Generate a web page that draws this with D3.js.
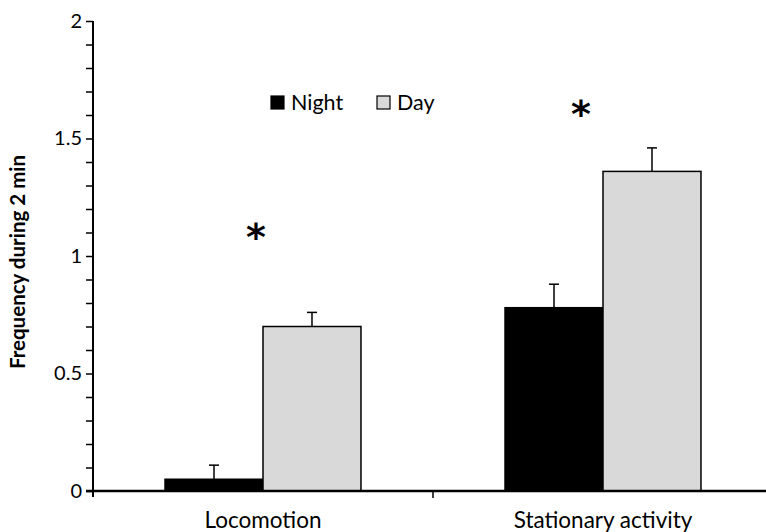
<!DOCTYPE html>
<html><head><meta charset="utf-8">
<script src="https://cdn.jsdelivr.net/npm/d3@7"></script>
<style>body{margin:0;background:#fff}svg{display:block}text{font-family:Lato,"Open Sans",sans-serif}</style>
</head><body><svg id="c" width="766" height="532"></svg>
<script>
const categories = ["Locomotion", "Stationary activity"];
const series = ["Night", "Day"];
const nightValues = [0.05, 0.78];
const dayValues = [0.70, 1.36];
const nightErrors = [0.06, 0.10];
const dayErrors = [0.06, 0.10];
const significant = [true, true];
const asteriskLevels = [1.10, 1.62];
const yTicks = [0, 0.5, 1, 1.5, 2];
const seriesColors = ["#000000", "#d9d9d9"];

const svg = d3.select("#c");
const x0 = 93, x1 = 773, yTop = 21, yBot = 491;
const y = d3.scaleLinear().domain([0, 2]).range([yBot, yTop]);
const x = d3.scaleBand().domain(categories).range([x0, x1]);
const xs = d3.scaleBand().domain(series).range([0, x.bandwidth()]).paddingOuter(0.735);

const vals = {Night: nightValues, Day: dayValues};
const errs = {Night: nightErrors, Day: dayErrors};
const astDx = [-7, -22];

categories.forEach((c, i) => {
  series.forEach((s, j) => {
    const v = vals[s][i], e = errs[s][i];
    const bx = x(c) + xs(s), bw = xs.bandwidth();
    const cx = bx + bw / 2;
    svg.append("line").attr("x1", cx).attr("x2", cx).attr("y1", y(v)).attr("y2", y(v + e))
      .attr("stroke", "#000").attr("stroke-width", 1.5);
    svg.append("line").attr("x1", cx - 5).attr("x2", cx + 5).attr("y1", y(v + e)).attr("y2", y(v + e))
      .attr("stroke", "#000").attr("stroke-width", 1.5);
    svg.append("rect").attr("x", bx).attr("y", y(v)).attr("width", bw).attr("height", y(0) - y(v))
      .attr("fill", seriesColors[j]).attr("stroke", "#000").attr("stroke-width", 1.5);
  });
  if (significant[i]) {
    svg.append("text").attr("x", x(c) + x.bandwidth() / 2 + astDx[i]).attr("y", y(asteriskLevels[i]) + 17)
      .attr("text-anchor", "middle").attr("font-size", 38).attr("font-weight", "bold")
      .style("font-family", "DejaVu Sans").text("*");
  }
});

// y axis
const yAxis = d3.axisLeft(y).tickValues(d3.range(0, 2.0001, 0.1)).tickSize(7).tickSizeOuter(0)
  .tickFormat(d => yTicks.some(t => Math.abs(t - d) < 1e-6) ? d3.format("")(Math.round(d * 10) / 10) : "");
const ga = svg.append("g").attr("transform", `translate(${x0},0)`).call(yAxis);
ga.select(".domain").attr("stroke-width", 2).attr("d", `M0,${yTop}V${yBot + 6}`);
ga.selectAll(".tick line").attr("stroke-width", 1.5);
ga.selectAll(".tick text").attr("font-size", 20).attr("x", -11).style("font-family", "Lato");

// x axis
const gx = svg.append("g").attr("transform", `translate(0,${yBot})`)
  .call(d3.axisBottom(x).tickValues([]).tickSizeOuter(0));
gx.select(".domain").attr("stroke-width", 2.5).attr("d", `M${x0 - 7},0H766`);
svg.append("line").attr("x1", x(categories[1])).attr("x2", x(categories[1])).attr("y1", yBot).attr("y2", yBot + 7)
  .attr("stroke", "#000").attr("stroke-width", 1.5);
categories.forEach(c => {
  svg.append("text").attr("x", x(c) + x.bandwidth() / 2).attr("y", 528).attr("text-anchor", "middle")
    .attr("font-size", 22.5).text(c);
});

// y title
svg.append("text").attr("transform", `translate(25,262) rotate(-90)`).attr("text-anchor", "middle")
  .attr("font-size", 20.5).attr("font-weight", "bold").text("Frequency during 2 min");

// legend
const legX = [271, 377];
series.forEach((s, j) => {
  svg.append("rect").attr("x", legX[j]).attr("y", 96).attr("width", 13).attr("height", 13)
    .attr("fill", seriesColors[j]).attr("stroke", "#000").attr("stroke-width", 1.2);
  svg.append("text").attr("x", legX[j] + 20).attr("y", 110).attr("font-size", 21.5).text(s);
});
</script></body></html>
